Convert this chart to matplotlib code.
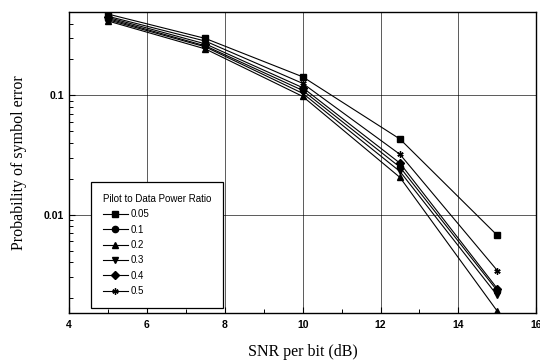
import matplotlib
matplotlib.use("Agg")
import matplotlib.pyplot as plt
from matplotlib.ticker import LogLocator, NullFormatter, FixedLocator, FixedFormatter

# SNR per bit (dB)
snr = [5, 7.5, 10, 12.5, 15]

# pilot to data power ratio -> probability of symbol error
ratios = ["0.05", "0.1", "0.2", "0.3", "0.4", "0.5"]
pe_005 = [0.48, 0.30, 0.143, 0.043, 0.0067]
pe_01 = [0.44, 0.26, 0.110, 0.025, 0.0023]
pe_02 = [0.42, 0.245, 0.098, 0.0205, 0.00155]
pe_03 = [0.43, 0.255, 0.104, 0.023, 0.0021]
pe_04 = [0.45, 0.27, 0.116, 0.027, 0.0024]
pe_05 = [0.46, 0.285, 0.126, 0.032, 0.0034]
series = [pe_005, pe_01, pe_02, pe_03, pe_04, pe_05]
markers = ["s", "o", "^", "v", "D", (6, 2, 0)]

fig = plt.figure(figsize=(5.4, 3.63), dpi=100)
ax = fig.add_axes([0.128, 0.138, 0.865, 0.829])

for ys, m, lab in zip(series, markers, ratios):
    ms = 4 if m == "D" else 4.5
    ax.plot(snr, ys, color="black", lw=0.8, marker=m, markersize=ms,
            markeredgecolor="black", markerfacecolor="black",
            markeredgewidth=1.0, label=lab)

ax.set_yscale("log")
ax.set_xlim(4, 16)
ax.set_ylim(0.0015, 0.5)

ax.xaxis.set_major_locator(FixedLocator([4, 6, 8, 10, 12, 14, 16]))
ax.xaxis.set_minor_locator(FixedLocator([5, 7, 9, 11, 13, 15]))
ax.yaxis.set_major_locator(FixedLocator([0.01, 0.1]))
ax.yaxis.set_major_formatter(FixedFormatter(["0.01", "0.1"]))
ax.yaxis.set_minor_locator(LogLocator(base=10, subs=range(2, 10)))
ax.yaxis.set_minor_formatter(NullFormatter())

for lbl in ax.get_xticklabels() + ax.get_yticklabels():
    lbl.set_fontfamily("Liberation Sans")
    lbl.set_fontsize(7.5)
    lbl.set_fontweight("bold")
ax.tick_params(which="both", direction="in", color="black")
ax.tick_params(which="major", length=4, width=0.8)
ax.tick_params(which="minor", length=3, width=0.7)
ax.tick_params(axis="x", pad=5)

ax.grid(True, which="major", color="black", lw=0.6, alpha=0.75)
for sp in ax.spines.values():
    sp.set_linewidth(1.0)

ax.set_xlabel("SNR per bit (dB)", fontfamily="Liberation Serif", fontsize=11.5, labelpad=10)
ax.set_ylabel("Probability of symbol error", fontfamily="Liberation Serif", fontsize=11.5, labelpad=12)

leg = ax.legend(title="Pilot to Data Power Ratio", loc="lower left",
                bbox_to_anchor=(0.047, 0.017), borderaxespad=0,
                fancybox=False, framealpha=1,
                edgecolor="black", handlelength=2.6, handletextpad=0.3,
                labelspacing=0.55, borderpad=1.2,
                prop={"family": "Liberation Sans", "size": 7},
                title_fontproperties={"family": "Liberation Sans", "size": 7})
leg.get_frame().set_linewidth(0.9)
leg._legend_box.align = "left"

fig.savefig("out.png", dpi=100)
